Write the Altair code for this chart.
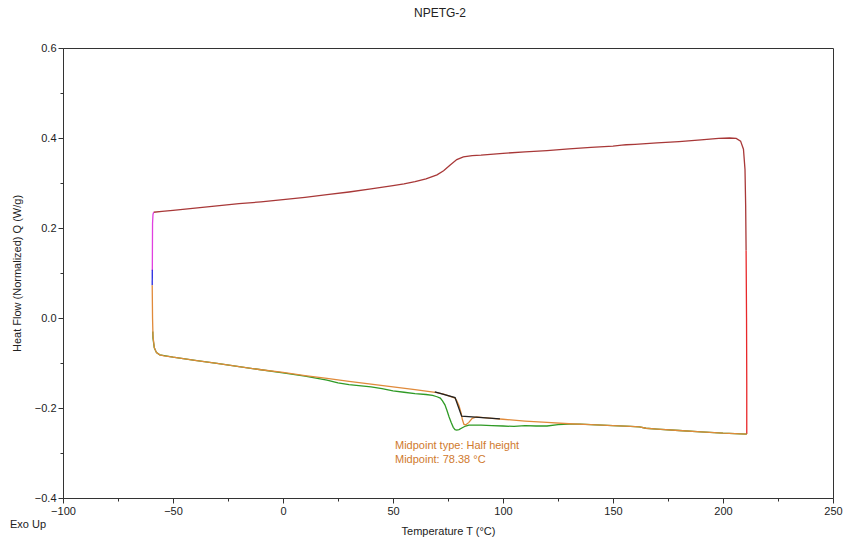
import altair as alt
import pandas as pd

# ---- data ----
heat_T = [-58.8, -55, -50, -40, -30, -20, -10, 0, 10, 20, 30, 40, 50, 55, 60, 65, 70, 73, 76, 79, 82, 86, 90,
          100, 110, 120, 130, 140, 150, 154, 156, 160, 170, 180, 190, 198, 203, 206, 208, 209.3, 210, 210.3, 210.5]
heat_v = [0.235, 0.237, 0.239, 0.244, 0.249, 0.254, 0.258, 0.263, 0.268, 0.274, 0.280, 0.287, 0.294, 0.298, 0.303,
          0.309, 0.318, 0.327, 0.340, 0.352, 0.358, 0.361, 0.362, 0.366, 0.369, 0.372, 0.376, 0.379, 0.382, 0.384,
          0.385, 0.386, 0.389, 0.392, 0.396, 0.399, 0.400, 0.399, 0.393, 0.375, 0.33, 0.25, 0.15]

magenta_T = [-59.4, -59.35, -59.3, -59.1, -58.8]
magenta_v = [0.105, 0.16, 0.21, 0.230, 0.235]

blue_T = [-59.45, -59.4]
blue_v = [0.073, 0.107]

red_T = [210.5, 210.7, 210.8, 210.8]
red_v = [0.15, 0.0, -0.15, -0.258]

orange_T = [210.8, 200, 190, 180, 170, 165, 162, 158, 150, 140, 130, 120, 110, 100, 95, 90, 88, 86, 84.5, 83,
            82.2, 81.5, 81.0, 80, 79, 78.2, 76, 73, 70, 60, 50, 40, 30, 20, 10, 0, -10, -20, -30, -40, -50,
            -54, -56, -57.5, -58.5, -59.1, -59.3, -59.45]
orange_v = [-0.258, -0.256, -0.253, -0.250, -0.247, -0.245, -0.242, -0.241, -0.239, -0.237, -0.235, -0.232,
            -0.229, -0.225, -0.223, -0.221, -0.220, -0.223, -0.232, -0.238, -0.236, -0.225, -0.212, -0.195,
            -0.184, -0.178, -0.174, -0.169, -0.166, -0.159, -0.153, -0.147, -0.141, -0.134, -0.128, -0.121,
            -0.115, -0.108, -0.101, -0.094, -0.087, -0.084, -0.082, -0.077, -0.066, -0.040, 0.0, 0.073]

green_T = [-59.2, -59.1, -58.5, -57.5, -56, -50, -40, -30, -20, -10, 0, 10, 20, 25, 30, 40, 45, 50, 55, 60,
           65, 68, 70, 71.5, 72.5, 73.6, 74.5, 75.5, 76.5, 77.4, 78.2, 79, 80, 81.5, 83, 84.5, 87, 90, 95, 100,
           105, 110, 115, 120, 125, 130, 135, 140, 150, 158, 162, 165, 170, 180, 190, 200, 210.8]
green_v = [-0.030, -0.045, -0.066, -0.077, -0.082, -0.087, -0.094, -0.101, -0.108, -0.115, -0.122, -0.129,
           -0.138, -0.144, -0.148, -0.153, -0.157, -0.162, -0.165, -0.168, -0.170, -0.172, -0.175, -0.178,
           -0.184, -0.193, -0.205, -0.220, -0.233, -0.243, -0.248, -0.249, -0.248, -0.244, -0.240, -0.238,
           -0.238, -0.238, -0.239, -0.240, -0.241, -0.239, -0.240, -0.240, -0.237, -0.236, -0.236, -0.237,
           -0.239, -0.241, -0.242, -0.245, -0.247, -0.250, -0.253, -0.256, -0.258]

black_T = [69, 78.2, 81.2, 98.6]
black_v = [-0.164, -0.177, -0.218, -0.224]

series_names = ["heat", "magenta", "blue", "red", "green", "orange", "black"]
series_colors = ["#a83838", "#e040e0", "#2a2ae0", "#e8282a", "#2f9a25", "#e08a3a", "#222222"]

x_ticks = [-100 + 12.5 * i for i in range(29)]
y_ticks = [round(-0.4 + 0.05 * i, 2) for i in range(21)]

notes = ["Midpoint type: Half height", "Midpoint: 78.38 °C"]
notes_T = [50.9, 50.9]
notes_v = [-0.284, -0.315]

# ---- build table ----
rows = []
order = 0
for name, T, v in [("heat", heat_T, heat_v), ("magenta", magenta_T, magenta_v), ("blue", blue_T, blue_v),
                   ("red", red_T, red_v), ("green", green_T, green_v), ("orange", orange_T, orange_v),
                   ("black", black_T, black_v)]:
    for t, val in zip(T, v):
        rows.append({"T": t, "v": val, "series": name, "idx": order})
        order += 1
df = pd.DataFrame(rows)
notes_df = pd.DataFrame({"T": notes_T, "v": notes_v, "text": notes})

FONT = "Liberation Sans"
xscale = alt.Scale(domain=[-100, 250], nice=False, zero=False)
yscale = alt.Scale(domain=[-0.4, 0.6], nice=False, zero=False)

x_major_test = "abs(datum.value % 50) < 0.001"
y_major_test = "abs(datum.value * 5 - round(datum.value * 5)) < 0.001"

lines = alt.Chart(df).mark_line(strokeWidth=1.3, clip=True).encode(
    x=alt.X("T:Q", scale=xscale,
            axis=alt.Axis(values=x_ticks, title="Temperature T (°C)",
                          tickSize={"condition": {"test": x_major_test, "value": 5}, "value": 3},
                          labelExpr=f"{x_major_test} ? format(datum.value, 'd') : ''",
                          labelFontSize=11, titleFontSize=11, titleFontWeight="normal", titlePadding=9,
                          grid=False, orient="bottom", labelFlush=False, labelOverlap=False)),
    y=alt.Y("v:Q", scale=yscale,
            axis=alt.Axis(values=y_ticks, title="Heat Flow (Normalized) Q (W/g)",
                          tickSize={"condition": {"test": y_major_test, "value": 5}, "value": 3},
                          labelExpr=f"{y_major_test} ? format(datum.value, '.1f') : ''",
                          labelFontSize=11, titleFontSize=11, titleFontWeight="normal", titlePadding=12,
                          grid=False, orient="left", labelFlush=False, labelOverlap=False)),
    color=alt.Color("series:N", scale=alt.Scale(domain=series_names, range=series_colors), legend=None),
    detail="series:N",
    order="idx:Q",
)

note_layer = alt.Chart(notes_df).mark_text(align="left", baseline="middle", fontSize=11, font=FONT,
                                           color="#d07a2e").encode(
    x=alt.X("T:Q", scale=xscale), y=alt.Y("v:Q", scale=yscale), text="text:N")

exo = alt.Chart(pd.DataFrame({"text": ["Exo Up"]})).mark_text(
    align="left", baseline="middle", fontSize=11, font=FONT, color="#222222").encode(
    x=alt.value(-53), y=alt.value(477), text="text:N")

chart = alt.layer(lines, note_layer, exo).properties(
    width=770, height=450,
    title=alt.TitleParams("NPETG-2", fontSize=12, font=FONT, fontWeight="normal", anchor="middle",
                          offset=22, dx=-8, color="#222222"),
    autosize=alt.AutoSizeParams(type="none"),
    padding={"left": 63, "top": 48, "right": 16, "bottom": 48},
).configure_view(stroke="#333333", strokeWidth=1).configure_axis(
    labelFont=FONT, titleFont=FONT, domainColor="#333333", tickColor="#333333",
    labelColor="#222222", titleColor="#222222"
)

chart.save("out.html", embed_options={"renderer": "svg", "actions": False})
